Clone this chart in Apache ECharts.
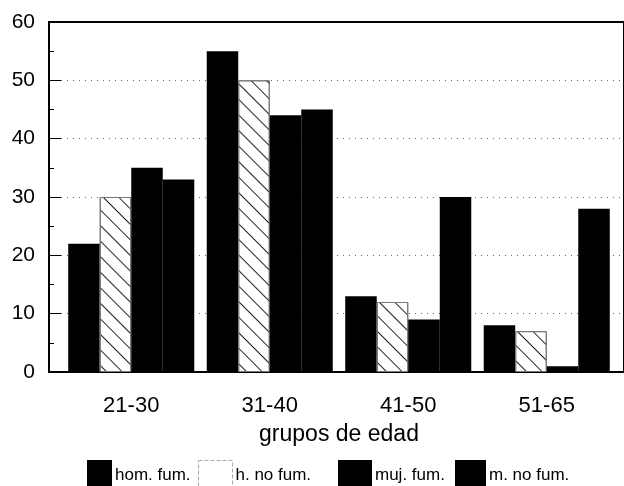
<!DOCTYPE html>
<html>
<head>
<meta charset="utf-8">
<script src="https://cdn.jsdelivr.net/npm/echarts@6/dist/echarts.min.js"></script>
<style>
html,body{margin:0;padding:0;background:#fff;}
#chart{width:624px;height:486px;}
</style>
</head>
<body>
<div id="chart"></div>
<script>
const categories = ['21-30', '31-40', '41-50', '51-65'];
const homFum = [22, 55, 13, 8];
const hNoFum = [30, 50, 12, 7];
const mujFum = [35, 44, 9, 1];
const mNoFum = [33, 45, 30, 28];
const seriesNames = ['hom. fum.', 'h. no fum.', 'muj. fum.', 'm. no fum.'];
const yTicks = { min: 0, max: 60, interval: 10 };

const baseFont = "'Liberation Sans', Arial, Helvetica, sans-serif";

const hatch = {
  symbol: 'rect',
  symbolSize: 1,
  dashArrayX: [1, 0],
  dashArrayY: [1, 10],
  rotation: Math.PI / 4,
  color: '#222'
};

const chart = echarts.init(document.getElementById('chart'), null, { renderer: 'canvas' });

function legendAt(name, left, width, extra) {
  const item = Object.assign({ name: name }, extra || {});
  return {
    left: left, top: 455,
    itemWidth: width, itemHeight: 30, itemGap: 0,
    icon: 'rect',
    textStyle: { fontFamily: baseFont, fontSize: 17, color: '#000', padding: [2, 0, 0, -2] },
    selectedMode: false,
    data: [item]
  };
}

chart.setOption({
  animation: false,
  backgroundColor: '#fff',
  legend: [
    legendAt(seriesNames[0], 82, 25),
    legendAt(seriesNames[1], 193, 34, { itemStyle: { color: '#fff', borderColor: '#aaa', borderWidth: 1, borderType: 'dashed', decal: 'none' } }),
    legendAt(seriesNames[2], 333, 34),
    legendAt(seriesNames[3], 450, 31)
  ],
  grid: [
    { left: 62, right: 8, top: 22, bottom: 114 },
    { left: 49, right: -3, top: 22, bottom: 114, show: true, borderColor: '#000', borderWidth: 2, backgroundColor: 'transparent', z: 3 }
  ],
  xAxis: [
    {
      type: 'category', gridIndex: 0, data: categories,
      axisLine: { show: false }, axisTick: { show: false },
      axisLabel: { fontFamily: baseFont, fontSize: 22, color: '#000', margin: 23 },
      name: 'grupos de edad', nameLocation: 'middle', nameGap: 51,
      nameTextStyle: { fontFamily: baseFont, fontSize: 23, color: '#000' }
    },
    { type: 'value', gridIndex: 1, min: 0, max: 1, show: false }
  ],
  yAxis: [
    {
      type: 'value', gridIndex: 0, min: yTicks.min, max: yTicks.max, interval: yTicks.interval,
      offset: 13,
      axisLine: { show: false },
      axisTick: { show: true, inside: true, length: 12, lineStyle: { color: '#000', width: 1 } },
      minorTick: { show: true, splitNumber: 2, length: 5, lineStyle: { color: '#000', width: 1 } },
      axisLabel: { fontFamily: baseFont, fontSize: 21, color: '#000', margin: 14 },
      splitLine: { show: false }
    },
    {
      type: 'value', gridIndex: 1, min: yTicks.min, max: yTicks.max, interval: yTicks.interval,
      axisLine: { show: false }, axisTick: { show: false }, axisLabel: { show: false },
      splitLine: { show: true, lineStyle: { color: '#666', width: 1, type: [1, 5] } }
    }
  ],
  series: [
    { name: seriesNames[0], type: 'bar', data: homFum, barGap: '0%', barCategoryGap: '9%', itemStyle: { color: '#000' }, z: 4 },
    { name: seriesNames[1], type: 'bar', data: hNoFum, itemStyle: { color: '#fff', borderColor: '#777', borderWidth: 1, decal: hatch }, z: 4 },
    { name: seriesNames[2], type: 'bar', data: mujFum, itemStyle: { color: '#000' }, z: 4 },
    { name: seriesNames[3], type: 'bar', data: mNoFum, itemStyle: { color: '#000' }, z: 4 }
  ]
});
</script>
</body>
</html>
